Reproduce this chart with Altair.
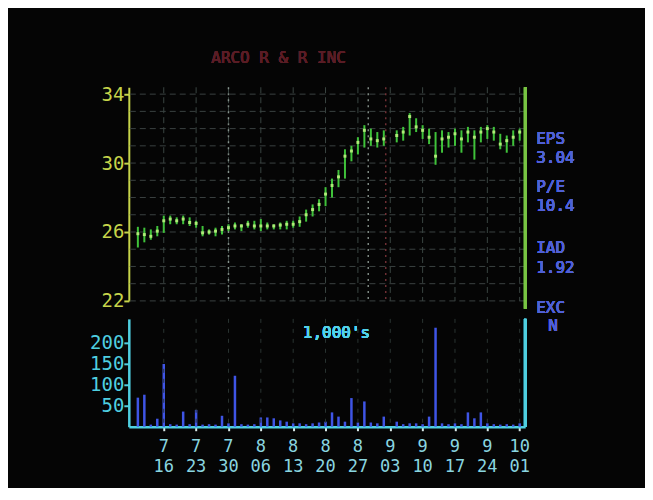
import altair as alt
import pandas as pd
import numpy as np

# ---------------- data ----------------
dates = ["07-10", "07-11", "07-12", "07-13",
         "07-16", "07-17", "07-18", "07-19", "07-20",
         "07-23", "07-24", "07-25", "07-26", "07-27",
         "07-30", "07-31", "08-01", "08-02", "08-03",
         "08-06", "08-07", "08-08", "08-09", "08-10",
         "08-13", "08-14", "08-15", "08-16", "08-17",
         "08-20", "08-21", "08-22", "08-23", "08-24",
         "08-27", "08-28", "08-29", "08-30", "08-31",
         "09-04", "09-05", "09-06", "09-07",
         "09-10", "09-11", "09-12", "09-13", "09-14",
         "09-17", "09-18", "09-19", "09-20", "09-21",
         "09-24", "09-25", "09-26", "09-27", "09-28",
         "10-01"]

high = [26.3, 26.25, 26.15, 26.35,
        26.95, 26.95, 26.85, 26.95, 26.85,
        26.65, 26.35, 26.15, 26.25, 26.35,
        26.45, 26.55, 26.45, 26.65, 26.65,
        26.75, 26.55, 26.45, 26.55, 26.65,
        26.65, 26.9, 27.3, 27.6, 27.9,
        28.6, 29.1, 29.6, 30.8, 31.0,
        31.5, 32.2, 32.0, 31.8, 31.9,
        31.9, 32.1, 32.9, 32.6,
        32.2, 32.0, 31.8, 31.9, 31.8,
        32.0, 31.9, 32.1, 31.9, 32.1,
        32.2, 32.1, 31.7, 31.6, 31.9,
        32.0]

low = [25.1, 25.4, 25.55, 25.75,
       25.95, 26.45, 26.45, 26.45, 26.35,
       26.25, 25.75, 25.85, 25.75, 25.85,
       26.05, 26.15, 26.05, 26.25, 26.15,
       26.05, 26.15, 26.15, 26.15, 26.15,
       26.25, 26.3, 26.6, 26.9, 27.2,
       27.5, 28.0, 28.6, 29.1, 30.1,
       30.5, 30.9, 31.0, 30.9, 31.0,
       31.2, 31.3, 31.6, 31.8,
       31.4, 31.1, 29.9, 30.6, 30.9,
       31.0, 30.6, 31.2, 30.2, 31.2,
       31.4, 31.3, 30.8, 30.6, 31.0,
       31.3]

close = [25.9, 25.85, 25.75, 26.05,
         26.65, 26.75, 26.65, 26.75, 26.55,
         26.5, 25.95, 26.0, 26.05, 26.15,
         26.25, 26.35, 26.35, 26.45, 26.35,
         26.35, 26.35, 26.35, 26.4, 26.45,
         26.45, 26.6, 27.0, 27.3, 27.6,
         28.2, 28.7, 29.2, 30.4, 30.7,
         31.2, 31.9, 31.4, 31.3, 31.4,
         31.6, 31.8, 32.7, 32.1,
         31.9, 31.5, 30.4, 31.4, 31.5,
         31.7, 31.4, 31.8, 31.5, 31.8,
         32.0, 31.8, 31.1, 31.3, 31.5,
         31.8]

volume = [69, 76, 5, 19,
          149, 6, 5, 36, 6,
          40, 5, 6, 5, 26,
          8, 121, 6, 5, 6,
          22, 22, 20, 15, 12,
          8, 8, 6, 8, 10,
          12, 34, 24, 12, 68,
          10, 60, 10, 8, 24,
          12, 6, 8, 8,
          6, 24, 235, 8, 6,
          8, 6, 34, 20, 34,
          8, 6, 5, 6, 5,
          8]

tick_month = ["7", "7", "7", "8", "8", "8", "8", "9", "9", "9", "9", "10"]
tick_day = ["16", "23", "30", "06", "13", "20", "27", "03", "10", "17", "24", "01"]

price_levels = list(range(22, 35))
cursor_pos = [15, 36.6, 39.3]
cursor_color = ["#9aa8a0", "#9aa8a0", "#8a3a40"]

stats_text = ["EPS", "3.04", "P/E", "10.4", "IAD", "1.92", "EXC", "N"]
title_text = "ARCO R & R INC"
vol_unit = "1,000's"

# ---------------- derived tables ----------------
YEAR = "1984"
START = YEAR + "-07-09"
idx = np.busday_count(START, [YEAR + "-" + d for d in dates])
tick_idx = np.busday_count(START, [f"{YEAR}-{int(m):02d}-{d}" for m, d in zip(tick_month, tick_day)])

df = pd.DataFrame({"idx": idx, "high": high, "low": low, "close": close, "volume": volume})
grid_df = pd.DataFrame({"level": price_levels})
vgrid_df = pd.DataFrame({"idx": tick_idx, "month": tick_month, "day": tick_day})
cur_df = pd.DataFrame({"idx": cursor_pos, "c": cursor_color})

W = 397
HT = 214
HB = 108
FONT = "DejaVu Sans Mono"

xscale = alt.Scale(domain=[-0.4, 60.85], nice=False, zero=False)
yscale_top = alt.Scale(domain=[22, 34.4], nice=False, zero=False)
yscale_bot = alt.Scale(domain=[0, 256], nice=False, zero=False)

YG = "#c6d44a"
GREEN = "#3fc23a"
CYAN = "#4fcfe0"
XLAB = "#8ad6e0"

# ---------------- top panel ----------------
base_top = alt.Chart(df)

hgrid = alt.Chart(grid_df).mark_rule(color="#3a4140", strokeDash=[6, 4], strokeWidth=1).encode(
    y=alt.Y("level:Q", scale=yscale_top,
            axis=alt.Axis(values=price_levels, title=None, grid=False,
                          labelExpr="datum.value % 2 == 0 ? datum.label : ''",
                          labelFont=FONT, labelFontSize=19, labelColor=YG,
                          tickColor=YG, tickSize=5, tickWidth=2,
                          domainColor=YG, domainWidth=2, labelPadding=0,
                          minExtent=40, maxExtent=40))
)
vgrid = alt.Chart(vgrid_df).mark_rule(color="#3a4542", strokeDash=[6, 4], strokeWidth=1).encode(
    x=alt.X("idx:Q", scale=xscale, axis=None)
)
cursors = alt.Chart(cur_df).mark_rule(strokeDash=[2, 4], strokeWidth=1.5, opacity=0.8).encode(
    x=alt.X("idx:Q", scale=xscale, axis=None),
    color=alt.Color("c:N", scale=None),
)
hl = base_top.mark_rule(color=GREEN, strokeWidth=2).encode(
    x=alt.X("idx:Q", scale=xscale, axis=None),
    y=alt.Y("low:Q", scale=yscale_top),
    y2="high:Q",
)
cl = base_top.mark_square(size=9, color="#b9f27e", opacity=0.9).encode(
    x=alt.X("idx:Q", scale=xscale, axis=None),
    y=alt.Y("close:Q", scale=yscale_top),
)
right_border = alt.Chart(grid_df).mark_rule(color="#78c443", strokeWidth=2.5).encode(
    x=alt.value(W), y=alt.value(0), y2=alt.value(HT + 8)
)

stat_y = [52, 71, 100, 119, 161, 181, 221, 239]
stat_dx = [0, 0, 0, 0, 0, 0, 0, 12]
stat_layers = []
for t, yy, dx in zip(stats_text, stat_y, stat_dx):
    stat_layers.append(
        alt.Chart(grid_df).mark_text(text=t, font=FONT, fontSize=16, color="#5061d6",
                                     align="left", baseline="middle", dx=dx).encode(
            x=alt.value(W + 11), y=alt.value(yy)
        )
    )

title_mark = alt.Chart(grid_df).mark_text(text=title_text, font=FONT, fontSize=16,
                                          color="#5a1d26", align="center",
                                          baseline="middle").encode(
    x=alt.value(150), y=alt.value(-29)
)

top = alt.layer(hgrid, vgrid, cursors, hl, cl, right_border, title_mark, *stat_layers).properties(
    width=W, height=HT
)

# ---------------- bottom panel ----------------
x_bot = alt.X("idx:Q", scale=xscale,
              axis=alt.Axis(values=[int(v) for v in tick_idx], labels=False, title=None,
                            grid=False, tickColor="#d8e8e8", tickSize=4, tickWidth=2,
                            domainColor=CYAN, domainWidth=2.5))

vol = alt.Chart(df).mark_rule(color="#3f55e6", strokeWidth=2.5).encode(
    x=x_bot,
    y=alt.Y("volume:Q", scale=yscale_bot,
            axis=alt.Axis(values=[50, 100, 150, 200], title=None, grid=False,
                          labelFont=FONT, labelFontSize=19, labelColor=CYAN,
                          tickColor=CYAN, tickSize=5, tickWidth=2, domainColor=CYAN,
                          domainWidth=2.5, labelPadding=0, minExtent=40, maxExtent=40)),
    y2=alt.datum(0),
)
vgrid_b = alt.Chart(vgrid_df).mark_rule(color="#2a3432", strokeDash=[4, 6], strokeWidth=1).encode(
    x=x_bot
)
month_lab = alt.Chart(vgrid_df).mark_text(font=FONT, fontSize=17, color=XLAB,
                                          align="center", baseline="middle").encode(
    x=x_bot, text="month:N", y=alt.value(HB + 20)
)
day_lab = alt.Chart(vgrid_df).mark_text(font=FONT, fontSize=17, color=XLAB,
                                        align="center", baseline="middle").encode(
    x=x_bot, text="day:N", y=alt.value(HB + 40)
)
right_border_b = alt.Chart(grid_df).mark_rule(color=CYAN, strokeWidth=2.5).encode(
    x=alt.value(W), y=alt.value(0), y2=alt.value(HB)
)
unit_text = alt.Chart(grid_df).mark_text(text=vol_unit, font=FONT, fontSize=16, color="#52d2ea",
                                         align="center", baseline="middle").encode(
    x=alt.value(208), y=alt.value(14)
)

bottom = alt.layer(vol, vgrid_b, month_lab, day_lab, right_border_b, unit_text).properties(
    width=W, height=HB
)

chart = alt.vconcat(top, bottom, spacing=18, bounds="flush").properties(
    background="#050505",
    padding={"left": 81, "top": 42, "right": 70, "bottom": 13},
).configure_view(stroke=None)

chart.save("out.html", embed_options={"renderer": "svg", "actions": False})
